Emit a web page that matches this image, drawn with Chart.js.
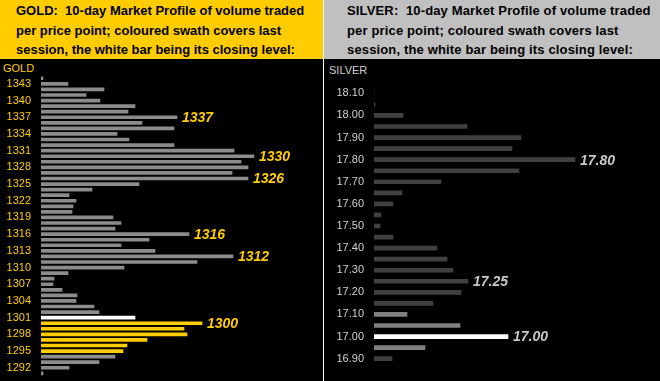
<!DOCTYPE html>
<html>
<head>
<meta charset="utf-8">
<script src="https://cdn.jsdelivr.net/npm/chart.js@4"></script>
<style>
body { margin: 0; background: #000; width: 660px; height: 381px; overflow: hidden; position: relative; font-family: "Liberation Sans", Arial, sans-serif; }
.hdr { position: absolute; top: 0; height: 59px; font-weight: bold; font-size: 13px; line-height: 19.5px; color: #000; box-sizing: border-box; padding-top: 1px; white-space: nowrap; }
#goldHdr { left: 0; width: 323px; background: #ffcc00; padding-left: 16px; }
#silverHdr { left: 324px; width: 336px; background: #c0c0c0; padding-left: 23px; letter-spacing: 0.15px; }
#sep { position: absolute; left: 323px; top: 0; width: 1px; height: 381px; background: #fff; }
.tag { position: absolute; font-size: 11px; }
canvas { position: absolute; top: 59px; }
</style>
</head>
<body>
<div class="hdr" id="goldHdr">GOLD:&nbsp; 10-day Market Profile of volume traded<br>per price point; coloured swath covers last<br>session, the white bar being its closing level:</div>
<div class="hdr" id="silverHdr">SILVER:&nbsp; 10-day Market Profile of volume traded<br>per price point; coloured swath covers last<br>session, the white bar being its closing level:</div>
<div id="sep"></div>
<div class="tag" style="left:3px;top:62px;color:#ffcc00">GOLD</div>
<div class="tag" style="left:329px;top:64px;color:#d0d0d0">SILVER</div>
<canvas id="gold" width="323" height="322" style="left:0"></canvas>
<canvas id="silver" width="336" height="322" style="left:324px"></canvas>
<script>
// gold: price points 1344 down to 1291, volume per point
var goldPrices = [];
for (var p = 1344; p >= 1291; p--) goldPrices.push(p);
var goldVolumes = [2, 27, 63, 45, 59, 94, 87, 136, 101, 133, 76, 88, 133, 193, 213, 200, 207, 191, 207, 98,
    51, 28, 35, 32, 31, 72, 80, 74, 148, 108, 80, 114, 192, 156, 83, 27, 13, 12, 21, 36,
    35, 53, 58, 94, 161, 143, 146, 106, 86, 82, 74, 58, 28, 2];
var goldSessionLow = 1295, goldSessionHigh = 1300, goldClose = 1301;
var goldMarkers = [1337, 1330, 1326, 1316, 1312, 1300];

// silver: price points 18.10 down to 16.90 in 0.05 steps
var silverPrices = ['18.10', '18.05', '18.00', '17.95', '17.90', '17.85', '17.80', '17.75', '17.70', '17.65',
    '17.60', '17.55', '17.50', '17.45', '17.40', '17.35', '17.30', '17.25', '17.20', '17.15',
    '17.10', '17.05', '17.00', '16.95', '16.90'];
var silverVolumes = [0, 1, 29, 93, 147, 138, 201, 145, 67, 28, 19, 7, 6, 19, 63, 73, 79, 94, 87, 59, 33, 86, 134, 51, 18];
var silverSessionLow = 16.95, silverSessionHigh = 17.10, silverClose = 17.00;
var silverMarkers = ['17.80', '17.25', '17.00'];

var markerLabels = {
    id: 'markerLabels',
    afterDatasetsDraw: function (chart, args, opts) {
        var ctx = chart.ctx;
        var meta = chart.getDatasetMeta(0);
        var labels = chart.data.labels;
        ctx.save();
        ctx.font = opts.font;
        ctx.fillStyle = opts.color;
        ctx.textBaseline = 'middle';
        opts.values.forEach(function (v) {
            var bar = meta.data[labels.indexOf(String(v))];
            ctx.fillText(String(v), bar.x + 5, bar.y + 1);
        });
        ctx.restore();
    }
};

function makeChart(id, labels, values, colors, o) {
    return new Chart(document.getElementById(id), {
        type: 'bar',
        data: {
            labels: labels,
            datasets: [{ data: values, backgroundColor: colors, barThickness: o.thick }]
        },
        options: {
            indexAxis: 'y',
            responsive: false,
            animation: false,
            devicePixelRatio: 1,
            layout: { padding: { top: o.top, bottom: o.bottom, left: 0, right: 0 } },
            plugins: {
                legend: { display: false },
                tooltip: { enabled: false },
                markerLabels: { values: o.markers, font: o.markFont, color: o.markColor }
            },
            scales: {
                x: { display: false, min: 0, max: o.xmax },
                y: {
                    grid: { display: false, drawTicks: false },
                    border: { display: false },
                    afterFit: function (s) {
                        s.width = o.axisW;
                        s.paddingTop = 0;
                        s.paddingBottom = 0;
                    },
                    ticks: {
                        autoSkip: false,
                        padding: 10,
                        color: o.tickColor,
                        font: { family: 'Liberation Sans', size: 11 },
                        callback: function (v, i) { return o.showTick(i) ? labels[i] : ''; }
                    }
                }
            }
        },
        plugins: [markerLabels]
    });
}

var goldColors = goldPrices.map(function (p) {
    if (p === goldClose) return '#ffffff';
    if (p >= goldSessionLow && p <= goldSessionHigh) return '#ffcc00';
    return '#8c8c8c';
});
var silverColors = silverPrices.map(function (s) {
    var p = parseFloat(s);
    if (Math.abs(p - silverClose) < 0.001) return '#ffffff';
    if (p >= silverSessionLow - 0.001 && p <= silverSessionHigh + 0.001) return '#808080';
    return '#404040';
});

makeChart('gold', goldPrices.map(String), goldVolumes, goldColors, {
    thick: 3, top: 16.5, bottom: 4.9, xmax: 282, axisW: 41,
    tickColor: '#ffcc00',
    showTick: function (i) { return (i + 2) % 3 === 0; },
    markers: goldMarkers, markFont: 'italic bold 14px "Liberation Sans"', markColor: '#ffcc00'
});
makeChart('silver', silverPrices, silverVolumes, silverColors, {
    thick: 4, top: 28.8, bottom: 16.8, xmax: 286, axisW: 50,
    tickColor: '#d0d0d0',
    showTick: function (i) { return i % 2 === 0; },
    markers: silverMarkers, markFont: 'italic bold 14px "Liberation Sans"', markColor: '#c8c8c8'
});
</script>
</body>
</html>
